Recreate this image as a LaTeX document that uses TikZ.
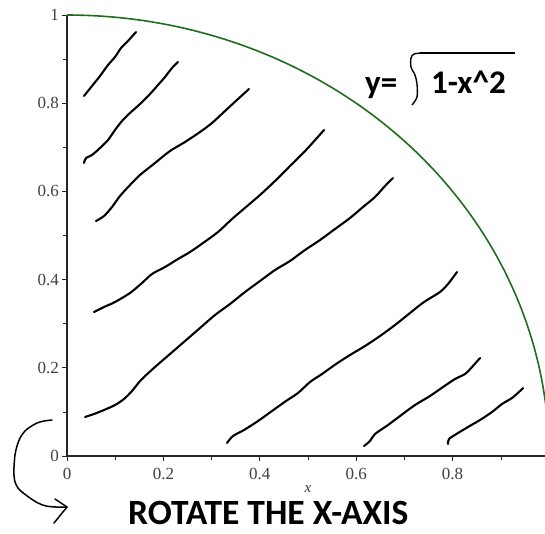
\documentclass[tikz,border=0pt]{standalone}
\usepackage{fontspec}
\setmainfont{Liberation Serif}
\newfontfamily\calib{Carlito}
\begin{document}
\begin{tikzpicture}[x=1pt,y=-1pt,
  hatch/.style={line width=2.1pt,line cap=round,line join=round},
  axisline/.style={line width=1.1pt,color=black!85},
  majtick/.style={line width=1pt,color=black!85},
  ticklbl/.style={font=\fontsize{17}{19}\selectfont,text=black!75,inner sep=0pt},
  boldtxt/.style={font=\calib\bfseries\fontsize{35.5}{38}\selectfont,inner sep=0pt,text depth=0pt,text height=23pt},
  formula/.style={font=\calib\bfseries\fontsize{33}{36}\selectfont,inner sep=0pt}]
\useasboundingbox (0,0) rectangle (545,533);
\clip (0,0) rectangle (545,533);
% axes
\coordinate (O) at (67,456);
\coordinate (Ytop) at (67,15);
\coordinate (Xend) at (560,456);
\draw[axisline] (Ytop) -- (O) -- (Xend);
% y ticks
\foreach \v/\l in {0/0,0.2/0.2,0.4/0.4,0.6/0.6,0.8/0.8,1/1}{
  \draw[majtick] (62,{456-441*\v}) -- (67,{456-441*\v});
  \node[ticklbl,anchor=east] (yl\l) at (59,{456-441*\v}) {\l};
}
\foreach \v in {0.1,0.3,0.5,0.7,0.9}{
  \draw[majtick,line width=0.6pt] (63,{456-441*\v}) -- (67,{456-441*\v});
}
% x ticks
\foreach \v/\l in {0/0,0.2/0.2,0.4/0.4,0.6/0.6,0.8/0.8}{
  \draw[majtick] ({67+482*\v},456) -- ({67+482*\v},461);
  \node[ticklbl,anchor=north] (xl\l) at ({67+482*\v},468) {\l};
}
\foreach \v in {0.1,0.3,0.5,0.7,0.9}{
  \draw[majtick,line width=0.6pt] ({67+482*\v},456) -- ({67+482*\v},460);
}
\node[font=\itshape\fontsize{15}{17}\selectfont,text=black!80,inner sep=0pt] (xlab) at (308,489) {x};
% circle arc
\draw[line width=1.6pt,color={rgb,255:red,30;green,110;blue,30}]
  plot[domain=0:90,samples=120,variable=\t] ({67+482*sin(\t)},{456-441*cos(\t)});
% hatch lines
\draw[hatch] plot[smooth,tension=0.5] coordinates{(84,96)(92,86)(100,76)(108,65)(115,57)(121,48)(127,42)(136,32)};
\draw[hatch] plot[smooth,tension=0.5] coordinates{(84,163)(86,158)(92,155)(100,148)(108,140)(115,130)(122,121)(130,113)(140,104)(150,94)(158,85)(165,77)(172,68)(178,62)};
\draw[hatch] plot[smooth,tension=0.5] coordinates{(96,221)(104,216)(112,207)(120,196)(130,185)(140,175)(155,163)(170,151)(185,142)(200,132)(212,123)(225,111)(238,99)(249,89)};
\draw[hatch] plot[smooth,tension=0.5] coordinates{(94,312)(104,307)(115,302)(130,293)(142,283)(152,274)(165,267)(178,259)(190,252)(203,243)(218,232)(232,219)(246,207)(260,195)(275,181)(290,166)(306,150)(316,139)(324,130)};
\draw[hatch] plot[smooth,tension=0.5] coordinates{(85,417)(94,414)(104,410)(115,405)(124,399)(132,391)(141,380)(155,367)(170,354)(185,341)(200,328)(215,315)(230,304)(245,292)(260,281)(275,270)(290,261)(305,250)(320,240)(335,229)(350,218)(363,207)(375,197)(385,186)(393,178)};
\draw[hatch] plot[smooth,tension=0.5] coordinates{(227,443)(233,436)(244,430)(258,421)(272,411)(286,401)(298,393)(310,382)(322,374)(336,364)(350,355)(365,346)(380,336)(395,325)(410,313)(424,302)(440,292)(448,284)(457,272)};
\draw[hatch] plot[smooth,tension=0.5] coordinates{(364,446)(370,441)(375,434)(388,425)(400,416)(415,405)(430,396)(443,387)(455,379)(465,374)(472,367)(480,358)};
\draw[hatch] plot[smooth,tension=0.5] coordinates{(448,444)(449,439)(458,433)(468,427)(480,420)(492,412)(502,404)(512,398)(520,391)(523,388)};
% formula
\node[formula,anchor=base west] (yeq) at (365,93) {y=};
\draw[line width=1.4pt,line join=round] plot[smooth,tension=0.5] coordinates{(422,53)(414,54)(411,58)(411,67)(415,75)(417,84)(417,97)(412,105)};
\draw[line width=1.4pt] (420,53) -- (515,53);
\node[formula,anchor=base west] (rad) at (431,93) {1-x\^{}2};
% bottom text
\node[boldtxt,anchor=base west] (rot) at (128,524.5) {ROTATE THE X-AXIS};
% hand-drawn arrow
\draw[line width=1.5pt,line join=round,line cap=round] plot[smooth,tension=0.5] coordinates{(52,420)(44,421)(37,423)(30,427)(25,431)(20,438)(17,446)(15,455)(14,467)(14,475)(15,482)(18,488)(22,492)(30,498)(38,503)(46,506)(56,507)(67,507)};
\draw[line width=1.5pt,line join=round,line cap=round] (55,499) -- (67,507) -- (54,523);
\end{tikzpicture}
\end{document}
